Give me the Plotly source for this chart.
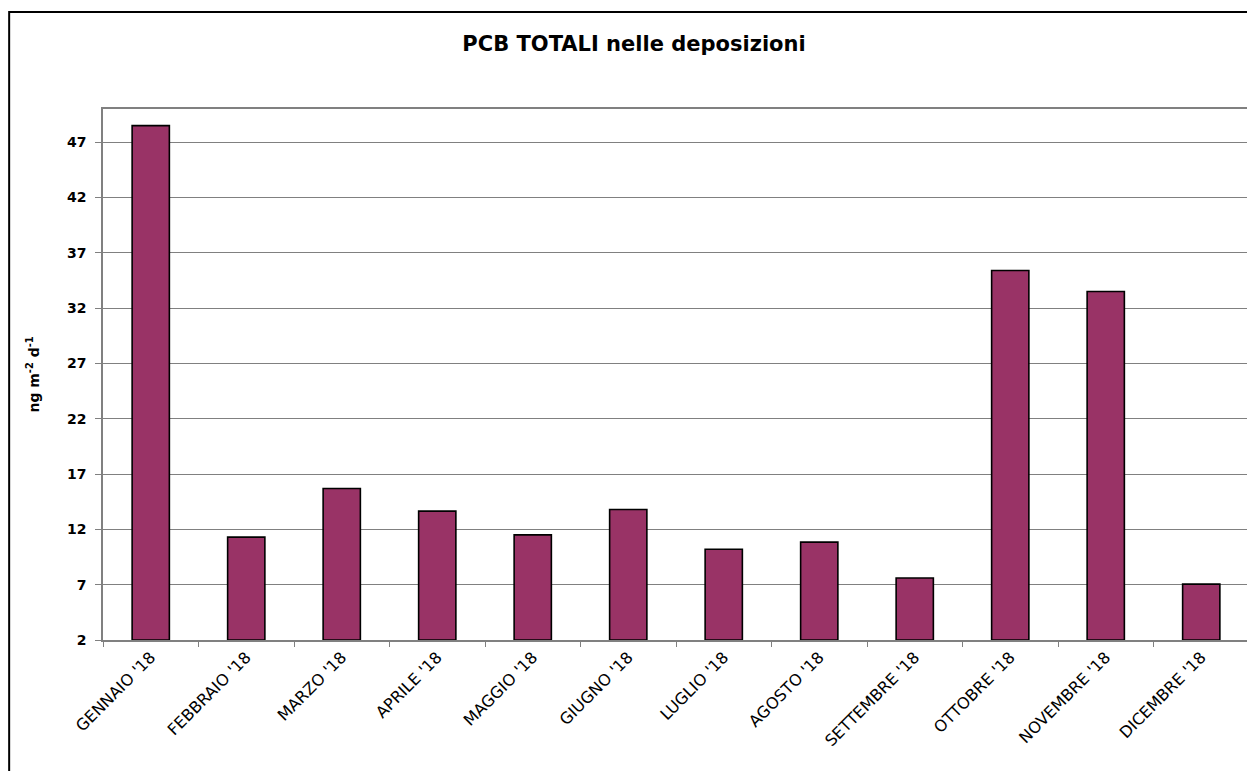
import plotly.graph_objects as go

months = ["GENNAIO '18", "FEBBRAIO '18", "MARZO '18", "APRILE '18", "MAGGIO '18", "GIUGNO '18",
          "LUGLIO '18", "AGOSTO '18", "SETTEMBRE '18", "OTTOBRE '18", "NOVEMBRE '18", "DICEMBRE '18"]
pcb_values = [48.5, 11.3, 15.7, 13.65, 11.5, 13.8, 10.2, 10.85, 7.6, 35.4, 33.5, 7.05]
y_ticks = [2, 7, 12, 17, 22, 27, 32, 37, 42, 47]

FONT = "DejaVu Sans, Liberation Sans, Arial, sans-serif"

# page has an 8px body margin, so the figure is sized to fit the 1255x771 window
W, H = 1247, 763
ML, MR, MT, MB = 95, 4, 101, 131
plot_w = W - ML - MR
plot_h = H - MT - MB

fig = go.Figure()
fig.add_trace(go.Bar(
    x=months, y=[v - 2 for v in pcb_values], base=2,
    marker=dict(color="#993366", line=dict(color="black", width=1.6)),
    width=0.39,
))

fig.update_layout(
    width=W, height=H,
    margin=dict(l=ML, r=MR, t=MT, b=MB),
    paper_bgcolor="white", plot_bgcolor="white",
    showlegend=False,
    title=dict(text="<b>PCB TOTALI nelle deposizioni</b>", x=0.502, xanchor="center",
               y=1 - 36 / H, yanchor="middle",
               font=dict(family=FONT, size=21, color="black")),
    font=dict(family=FONT, color="black"),
)
fig.update_xaxes(
    type="category", tickangle=-45, tickson="boundaries",
    ticks="outside", ticklen=5, tickcolor="#808080",
    showline=True, linecolor="#808080", linewidth=1.5, mirror=True,
    showgrid=False,
    tickfont=dict(family=FONT, size=16, color="black"),
)
fig.update_yaxes(
    range=[2, 50], tickvals=y_ticks, ticktext=[f"<b>{t}</b>" for t in y_ticks],
    ticks="outside", ticklen=6, tickcolor="#808080", ticklabelstandoff=6,
    showline=True, linecolor="#808080", linewidth=1.5, mirror=True,
    showgrid=True, gridcolor="#808080", gridwidth=1,
    tickfont=dict(family=FONT, size=14, color="black"),
    title=dict(text="<b>ng m<sup>-2</sup> d<sup>-1</sup></b>", standoff=24,
               font=dict(family=FONT, size=14, color="black")),
    zeroline=False,
)
# outer chart frame
fig.add_shape(type="rect", xref="paper", yref="paper",
              x0=(1 - ML) / plot_w, x1=1.2, y0=-0.5, y1=(plot_h + MT - 4) / plot_h,
              line=dict(color="black", width=2), fillcolor="rgba(0,0,0,0)", layer="above")

fig.write_html("out.html")
